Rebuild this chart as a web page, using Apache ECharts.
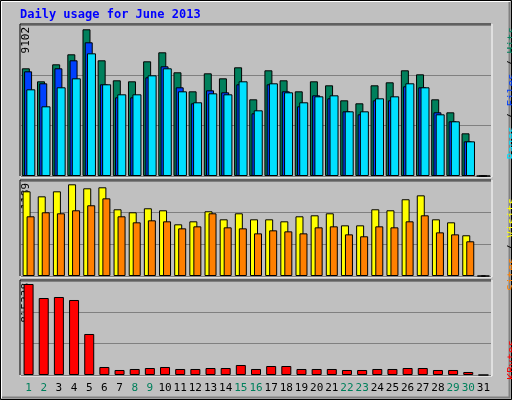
<!DOCTYPE html>
<html><head><meta charset="utf-8">
<script src="https://cdn.jsdelivr.net/npm/echarts@6/dist/echarts.min.js"></script>
<style>html,body{margin:0;padding:0;background:#c0c0c0}#c{width:512px;height:400px}</style>
</head><body><div id="c"></div>
<script>
const days = Array.from({length:31},(_,i)=>String(i+1));
const weekend = ['1','2','8','9','15','16','22','23','29','30'];
const hits = [6682,5875,6930,7551,9102,7178,5937,5875,7116,7675,6434,5254,6371,6061,6744,4758,6558,5937,5254,5875,5627,4696,4510,5627,5813,6558,6309,4758,3951,2648,0];
const files = [6495,5751,6682,7178,8295,5689,4882,4882,6123,6806,5503,4510,5316,5192,5689,3889,5689,5254,4323,5006,4820,4013,3827,4696,4696,5565,5503,3951,3393,2151,0];
const pages = [5378,4323,5503,6061,7612,5689,5068,5068,6247,6682,5254,4572,5130,5068,5875,4075,5751,5192,4572,4944,5006,4013,4013,4820,4944,5751,5503,3827,3393,2151,0];
const visits = [1098,1033,1098,1189,1137,1150,865,826,878,852,670,709,839,735,813,735,735,709,774,787,813,657,657,865,852,995,1046,735,696,528,0];
const sites = [774,826,813,852,917,1007,774,696,722,709,618,644,813,631,618,553,592,579,553,631,644,540,515,644,631,709,787,566,540,450,0];
const kbytes = [815338,689900,698900,672000,367400,71700,44800,53800,62700,71700,53800,53800,62700,62700,89600,53800,80600,80600,53800,53800,53800,44800,44800,53800,53800,62700,62700,44800,44800,26900,0];
const title = 'Daily usage for June 2013';

const maxTop = Math.max(...hits), maxMid = Math.max(...visits), maxBot = Math.max(...kbytes);
const font = 'DejaVu Sans Mono';
const grids = [
  {left:21,width:470,top:25,height:151},
  {left:21,width:470,top:181,height:95},
  {left:21,width:470,top:281,height:94}
];
const tops=[maxTop*151/146.7, maxMid*95/91.7, maxBot*94/91];
const xAxis = grids.map((g,i)=>({type:'category',gridIndex:i,data:days,boundaryGap:true,
  axisLine:{show:false},axisTick:{show:false},
  axisLabel:{show:i===2,interval:0,fontFamily:font,fontSize:11,margin:8,
    formatter:v=>weekend.includes(v)?'{g|'+v+'}':'{b|'+v+'}',
    rich:{g:{color:'#00805c',fontFamily:font,fontSize:11},b:{color:'#000',fontFamily:font,fontSize:11}}}}));
const yAxis = tops.map((m,i)=>({type:'value',gridIndex:i,min:0,max:m,interval:m/3,
  axisLabel:{show:false},axisLine:{show:false},axisTick:{show:false},
  splitLine:{lineStyle:{color:'#808080',width:1}}}));
const bs = (name,data,color,xi,w,gap)=>({type:'bar',name,data,xAxisIndex:xi,yAxisIndex:xi,barWidth:w,barGap:gap,
  itemStyle:{color,borderColor:'#000',borderWidth:1},silent:true,animation:false});
const ylab=(t,x,y)=>({type:'text',x,y,rotation:Math.PI/2,style:{text:t,font:'11px '+font,fill:'#000',align:'right',verticalAlign:'top'}});
const rlab=(parts,x,y)=>({type:'text',x,y,rotation:Math.PI/2,style:{
  rich:{a:{fill:parts[0][1],font:'11px '+font},b:{fill:'#000',font:'11px '+font},c:{fill:parts[1]?parts[1][1]:'#000',font:'11px '+font},d:{fill:parts[2]?parts[2][1]:'#000',font:'11px '+font}},
  text:parts.map((p,i)=>'{'+'acd'[i]+'|'+p[0]+'}').join('{b| / }'),align:'right',verticalAlign:'top'}});
const frames=[];
grids.forEach(g=>{
  frames.push({type:'polyline',shape:{points:[[g.left-1,g.top+g.height],[g.left-1,g.top-1],[g.left+g.width,g.top-1]]},style:{stroke:'#000',fill:null,lineWidth:1}});
  frames.push({type:'polyline',shape:{points:[[g.left-1,g.top+g.height+1],[g.left+g.width+1,g.top+g.height+1],[g.left+g.width+1,g.top-1]]},style:{stroke:'#fff',fill:null,lineWidth:1}});
});
const chart = echarts.init(document.getElementById('c'));
chart.setOption({
  backgroundColor:'#c0c0c0',animation:false,
  grid:grids.map(g=>Object.assign({show:true,backgroundColor:'#c0c0c0',borderWidth:0},g)),
  xAxis,yAxis,
  series:[
    bs('Hits',hits,'#00805c',0,8,'-72%'),
    bs('Files',files,'#0040ff',0,8,'-72%'),
    bs('Pages',pages,'#00e0ff',0,9,'-72%'),
    bs('Visits',visits,'#ffff00',1,8,'-50%'),
    bs('Sites',sites,'#ff8000',1,8,'-50%'),
    bs('KBytes',kbytes,'#ff0000',2,10,'0%')
  ],
  graphic:[
    {type:'rect',shape:{x:0.5,y:0.5,width:511,height:399},style:{fill:null,stroke:'#000',lineWidth:1}},
    {type:'polyline',shape:{points:[[1.5,398],[1.5,1.5],[510,1.5]]},style:{stroke:'#fff',fill:null,lineWidth:1}},
    {type:'polyline',shape:{points:[[2,397.5],[509.5,397.5],[509.5,2]]},style:{stroke:'#808080',fill:null,lineWidth:2}},
    {type:'text',x:20,y:9,style:{text:title,font:'bold 12px '+font,fill:'#0000ff'}},
    ylab(String(maxTop),21,27),
    ylab(String(maxMid),21,183),
    ylab(String(maxBot),21,283),
    rlab([['Pages','#00e0ff'],['Files','#0040ff'],['Hits','#00805c']],507,27),
    rlab([['Sites','#ff8000'],['Visits','#ffff00']],507,198),
    rlab([['KBytes','#ff0000']],507,340),
    ...frames
  ]
});
</script></body></html>
